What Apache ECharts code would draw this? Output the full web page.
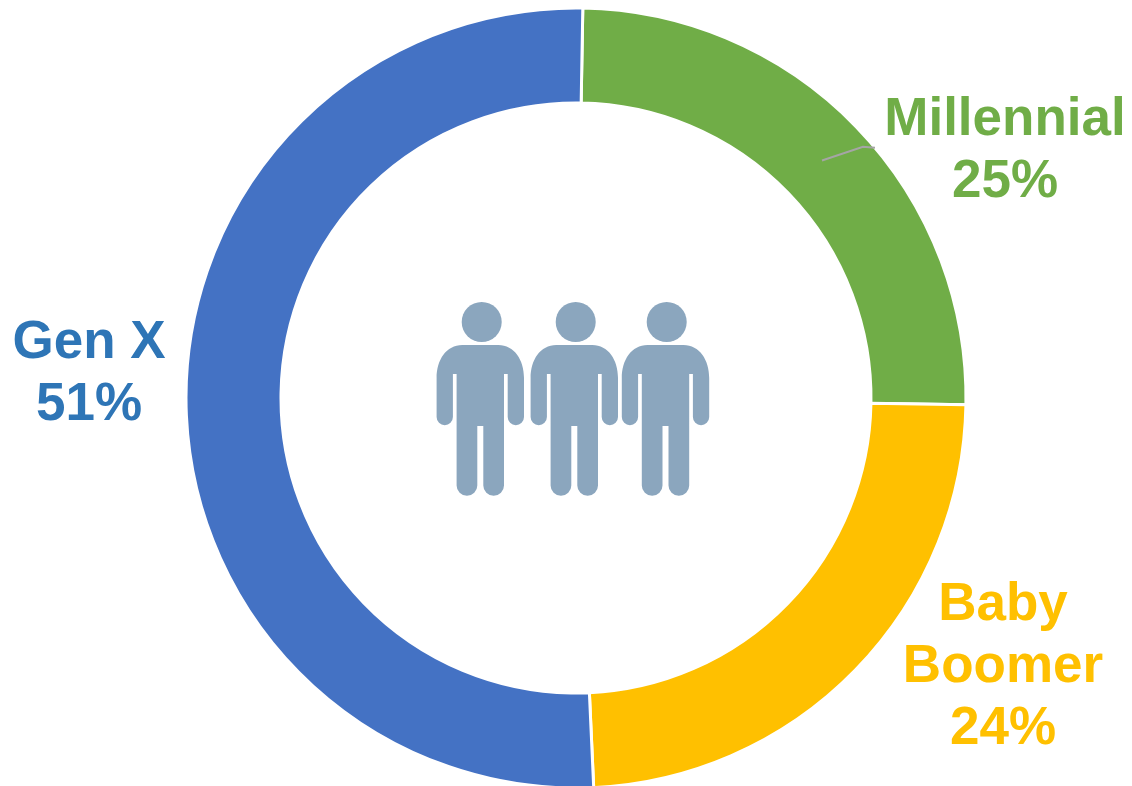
<!DOCTYPE html>
<html>
<head>
<meta charset="utf-8">
<style>html,body{margin:0;padding:0;background:#fff}#chart{width:1132px;height:786px}</style>
<script src="https://cdn.jsdelivr.net/npm/echarts@6/dist/echarts.min.js"></script>
</head>
<body>
<div id="chart"></div>
<script>
// Workforce share by generation
const categories = ['Millennial', 'Baby\nBoomer', 'Gen X'];
const shares = [25, 24, 51];
const sliceColors = ['#70AD47', '#FFC000', '#4472C4'];
const labelColors = ['#70AD47', '#FFC000', '#2E75B6'];

// Label centres in pixels, one per category
const labelCenters = [[1005, 151], [1003, 667], [89, 374]];

// One standing figure, origin at the shoulder line, centred on the body
const personPath =
  'M-18 0H18C34 0 43.7 15 43.7 33V72A8.1 8.1 0 0 1 27.4 72V29H23.7V140.5' +
  'A10.3 10.3 0 0 1 3 140.5V81H-3V140.5A10.3 10.3 0 0 1 -23.7 140.5V29H-27.4V72' +
  'A8.1 8.1 0 0 1 -43.7 72V33C-43.7 15 -34 0 -18 0Z';
const personColor = '#8BA6BE';
const people = [
  { body: 480.3, head: 481.7 },
  { body: 574.3, head: 575.7 },
  { body: 665.5, head: 666.7 }
];

echarts.graphic.registerShape('personBody', echarts.graphic.extendPath(personPath, {}));

const overlayGraphics = [];
people.forEach(p => {
  overlayGraphics.push({
    type: 'circle', silent: true,
    shape: { cx: p.head, cy: 322, r: 20 },
    style: { fill: personColor }
  });
  overlayGraphics.push({
    type: 'personBody', silent: true, x: p.body, y: 345,
    style: { fill: personColor }
  });
});

// Leader line running from the Millennial slice toward its label
overlayGraphics.push({
  type: 'polyline', silent: true, z: 100,
  shape: { points: [[822, 160.5], [863, 146.7], [875, 147.7]] },
  style: { stroke: '#A5A5A5', lineWidth: 2, fill: 'none' }
});

const chart = echarts.init(document.getElementById('chart'), null, { renderer: 'canvas' });
chart.setOption({
  animation: false,
  backgroundColor: '#fff',
  graphic: overlayGraphics,
  series: [{
    type: 'pie',
    center: [576, 398],
    radius: [295, 390],
    startAngle: 89,
    clockwise: true,
    avoidLabelOverlap: false,
    silent: true,
    itemStyle: { borderColor: '#fff', borderWidth: 3 },
    label: {
      show: true,
      position: 'outside',
      formatter: '{b}\n{d}%',
      fontFamily: '"Liberation Sans", Arial, sans-serif',
      fontWeight: 'bold',
      fontSize: 53,
      lineHeight: 62,
      align: 'center',
      verticalAlign: 'middle'
    },
    labelLine: { show: false },
    labelLayout: params => ({
      x: labelCenters[params.dataIndex][0],
      y: labelCenters[params.dataIndex][1],
      align: 'center',
      verticalAlign: 'middle'
    }),
    data: categories.map((name, i) => ({
      name,
      value: shares[i],
      itemStyle: { color: sliceColors[i] },
      label: { color: labelColors[i] }
    }))
  }]
});
</script>
</body>
</html>
